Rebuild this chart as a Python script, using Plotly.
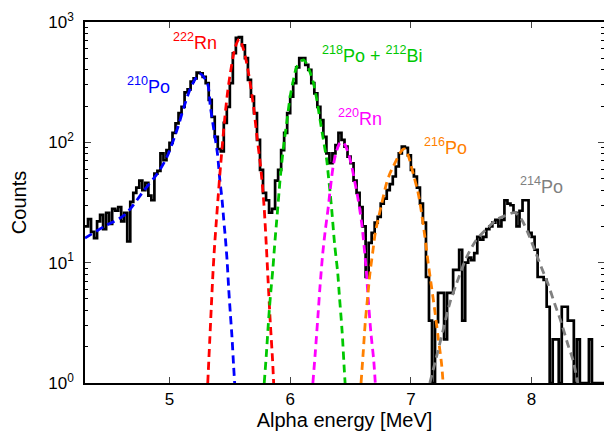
import numpy as np
import plotly.graph_objects as go

# ---------------- data ----------------
E_START = 4.30      # MeV, left edge of first bin
BIN_WIDTH = 0.025   # MeV

counts = [
    20, 23, 18, 16, 22, 25, 19, 26, 21, 28,
    27, 29, 22, 26, 15, 32, 38, 42, 48, 40,
    46, 36, 33, 55, 58, 81, 71, 86, 99, 120,
    144, 175, 197, 260, 275, 320, 340, 380, 375, 350,
    310, 225, 163, 111, 88, 84, 145, 197, 310, 550,
    740, 750, 640, 500, 330, 240, 175, 105, 59, 38,
    33, 26, 28, 48, 59, 86, 120, 175, 240, 310,
    420, 500, 500, 440, 400, 310, 255, 197, 153, 111,
    81, 67, 81, 95, 120, 105, 92, 76, 67, 48,
    38, 29, 20, 7.6, 14.6, 17.7, 21.5, 24, 31, 34,
    40, 45, 52, 63, 81, 92, 90, 78, 59, 52,
    42, 31, 21.5, 7.6, 3.3, 1, 3.2, 5.6, 5.6, 2.3,
    5.6, 5.6, 8.7, 8.7, 12.8, 3.3, 10, 11, 10.5, 12,
    16.4, 15.5, 16.4, 19, 20, 21.5, 22.7, 20, 22.7, 33,
    31, 30, 26, 20, 27, 33, 33, 17.7, 16.4, 12.8,
    7.6, 7.6, 7.2, 4.3, 1, 2.3, 2.3, 1, 4.3, 4.3,
    3.3, 3.3, 1, 2.3, 1, 1, 1, 2.3, 1, 1,
    1, 1,
]

po210_x = [4.30, 4.46, 4.63, 4.79, 4.90, 4.98, 5.07, 5.12, 5.18, 5.25, 5.314, 5.339,
           5.364, 5.397, 5.416, 5.436, 5.449, 5.463, 5.477, 5.49, 5.504, 5.518, 5.531, 5.54]
po210_y = [16, 20, 25, 40, 55, 76, 134, 197, 290, 372, 310, 197,
           134, 81, 50, 33, 23, 16, 10.5, 6.2, 3.8, 2.4, 1.4, 1.0]

rn222_x = [5.317, 5.333, 5.347, 5.361, 5.374, 5.388, 5.402, 5.416, 5.449, 5.477, 5.504,
           5.545, 5.578, 5.614, 5.655, 5.697, 5.725, 5.752, 5.769, 5.785, 5.802, 5.816,
           5.835, 5.854, 5.863]
rn222_y = [1.0, 2.2, 4.4, 8.5, 14, 22, 34, 52, 127, 240, 375,
           620, 720, 590, 375, 197, 111, 67, 45, 28, 14, 7.4,
           3.2, 1.55, 1.0]

po218_x = [5.785, 5.802, 5.816, 5.829, 5.843, 5.857, 5.870, 5.884, 5.895, 5.909, 5.917,
           5.945, 5.973, 6.00, 6.027, 6.055, 6.11, 6.151, 6.193, 6.221, 6.248, 6.275,
           6.303, 6.317, 6.331, 6.345, 6.367, 6.394, 6.407, 6.43, 6.449, 6.455]
po218_y = [1.0, 1.7, 2.8, 4.3, 6.3, 9.0, 13.5, 20, 27, 40, 50,
           92, 150, 240, 330, 425, 485, 415, 310, 225, 153, 105,
           71, 52, 38, 27, 14.6, 8.2, 5.4, 2.7, 1.25, 1.0]

rn220_x = [6.188, 6.209, 6.229, 6.248, 6.27, 6.292, 6.312, 6.331, 6.358, 6.386, 6.413,
           6.438, 6.455, 6.482, 6.51, 6.537, 6.564, 6.593, 6.628, 6.647, 6.669, 6.692, 6.705]
rn220_y = [1.0, 1.85, 3.5, 6.5, 12, 19, 27, 40, 65, 86, 99,
           100, 95, 81, 63, 46, 33, 21, 9.2, 4.9, 2.6, 1.55, 1.0]

po216_x = [6.587, 6.606, 6.622, 6.642, 6.661, 6.683, 6.705, 6.733, 6.752, 6.799, 6.826,
           6.854, 6.882, 6.905, 6.931, 6.95, 6.977, 7.019, 7.06, 7.088, 7.116, 7.143,
           7.171, 7.198, 7.226, 7.254, 7.267]
po216_y = [1.0, 1.85, 3.2, 5.2, 8.2, 12, 17.7, 24, 29, 46, 55,
           63, 72, 80, 87, 88, 78, 55, 38, 26, 16.4, 10,
           6.3, 4.0, 2.4, 1.45, 1.0]

po214_x = [7.157, 7.212, 7.267, 7.322, 7.378, 7.46, 7.543, 7.626, 7.708, 7.777, 7.86,
           7.915, 7.97, 8.025, 8.08, 8.135, 8.19, 8.245, 8.30, 8.343, 8.383]
po214_y = [1.0, 1.65, 2.75, 4.6, 6.7, 11, 15.5, 19, 22.7, 24.5, 26,
           23, 17.7, 12.8, 9.2, 6.7, 4.6, 3.2, 2.1, 1.55, 1.0]

# ---------------- figure ----------------
edges = np.round(E_START + BIN_WIDTH * np.arange(len(counts) + 1), 4)
hist_y = list(counts) + [counts[-1]]

FONT = "Liberation Sans, Arial, sans-serif"
fig = go.Figure()
fig.add_trace(go.Scatter(x=edges, y=hist_y, mode="lines",
                         line=dict(color="black", width=2.7, shape="hv"),
                         showlegend=False, hoverinfo="skip"))

fits = [
    (po210_x, po210_y, "#0000FF"),
    (rn222_x, rn222_y, "#FF0000"),
    (po218_x, po218_y, "#00C800"),
    (rn220_x, rn220_y, "#FF00FF"),
    (po216_x, po216_y, "#FF8000"),
    (po214_x, po214_y, "#808080"),
]
for fx, fy, col in fits:
    fig.add_trace(go.Scatter(x=fx, y=fy, mode="lines",
                             line=dict(color=col, width=2.8, dash="8px,5px",
                                       shape="spline", smoothing=0.8),
                             showlegend=False, hoverinfo="skip"))

labels = [
    ("<sup>210</sup>Po", 4.83, 295, "#0000FF"),
    ("<sup>222</sup>Rn", 5.21, 690, "#FF0000"),
    ("<sup>218</sup>Po + <sup>212</sup>Bi", 6.68, 535, "#00C800"),
    ("<sup>220</sup>Rn", 6.58, 160, "#FF00FF"),
    ("<sup>216</sup>Po", 7.29, 92, "#FF8000"),
    ("<sup>214</sup>Po", 8.08, 44, "#808080"),
]
for txt, lx, ly, col in labels:
    fig.add_annotation(x=lx, y=np.log10(ly), xref="x", yref="y", text=txt,
                       showarrow=False, font=dict(family=FONT, size=18, color=col))

# page body has an 8px margin, so the figure is 8px smaller and offset
fig.update_layout(
    width=604, height=429,
    margin=dict(l=77, r=8, t=14, b=54, autoexpand=False),
    paper_bgcolor="white", plot_bgcolor="white",
    font=dict(family=FONT, size=17, color="black"),
)
fig.update_xaxes(range=[4.3, 8.6], tickvals=[5, 6, 7, 8], ticks="inside", ticklen=6,
                 tickwidth=1.2, showline=True, linecolor="black", linewidth=1.5,
                 mirror="ticks", showgrid=False, zeroline=False, automargin=False,
                 title=dict(text="Alpha energy [MeV]", standoff=4),
                 tickfont=dict(size=17))
fig.update_yaxes(type="log", range=[0, 3], tickvals=[1, 10, 100, 1000],
                 ticktext=["10<sup>0</sup>", "10<sup>1</sup>", "10<sup>2</sup>", "10<sup>3</sup>"],
                 ticks="inside", ticklen=6, tickwidth=1.2, showline=True,
                 linecolor="black", linewidth=1.5, mirror="ticks", showgrid=False,
                 zeroline=False, automargin=False, ticklabelstandoff=6,
                 title=dict(text="Counts", standoff=18),
                 minor=dict(ticks="inside", ticklen=3, tickwidth=1, tickcolor="black",
                            dtick="D1", showgrid=False),
                 tickfont=dict(size=17))

fig.write_html("out.html")
